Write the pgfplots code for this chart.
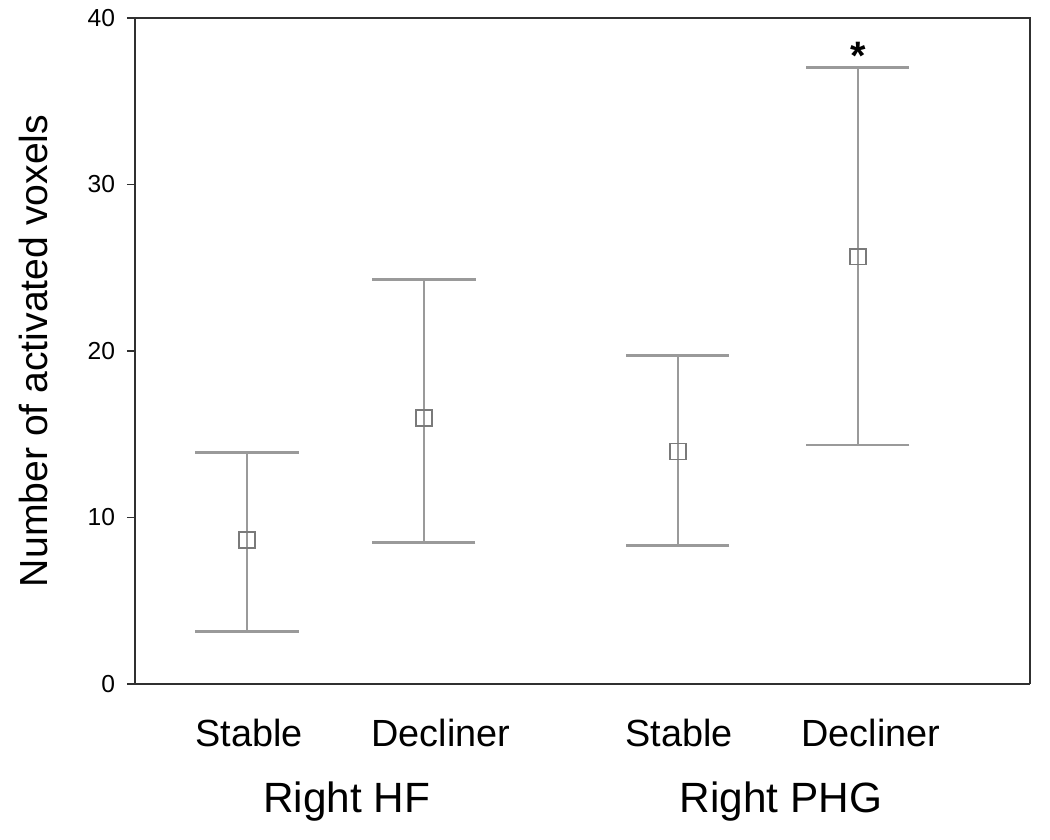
\documentclass[border=0pt]{standalone}
\usepackage{pgfplots}
\pgfplotsset{compat=1.18}
\usepackage{fontspec}
\setmainfont{Liberation Sans}
\usetikzlibrary{calc}

\definecolor{barcol}{HTML}{9A9A9A}
\definecolor{markcol}{HTML}{7A7A7A}
\definecolor{framecol}{HTML}{303030}

\begin{document}
\begin{tikzpicture}
% 1px in the reference = 0.378pt
\begin{axis}[
scale only axis,
width=338.3pt, height=251.7pt,
xmin=135, xmax=1030,
ymin=0, ymax=40,
ytick={0,10,20,30,40},
xtick=\empty,
tick align=outside,
major tick length=3pt,
axis y line*=left,
axis line style={framecol, line width=0.8pt},
every tick/.style={framecol, line width=0.6pt},
y tick label style={font=\fontsize{9.3}{11}\selectfont, xshift=-1pt},
/pgf/number format/assume math mode=true,
ylabel={Number of activated voxels},
ylabel style={font=\fontsize{14.8}{17}\selectfont, at={(axis description cs:-0.113,0.5)}, anchor=center},
clip=false,
]
\addplot[only marks, mark=square, mark size=3pt,
  mark options={draw=markcol, fill=white, line width=0.6pt},
  error bars/.cd, y dir=both, y explicit,
  error bar style={draw=barcol, line width=0.8pt},
  error mark options={rotate=90, draw=barcol, line width=1.1pt, mark size=19.5pt}]
coordinates {
(247,8.65)  += (0,5.27)  -= (0,5.51)
(424,15.96) += (0,8.34)  -= (0,7.45)
(678,13.95) += (0,5.77)  -= (0,5.64)
(858,25.66) += (0,11.38) -= (0,11.31)
};
% redraw marks on top of the error bars
\addplot[only marks, mark=square, mark size=3pt,
  mark options={draw=markcol, fill=white, line width=0.6pt}]
coordinates {(247,8.65) (424,15.96) (678,13.95) (858,25.66)};

\node[font=\fontsize{15}{17}\selectfont\bfseries] at (axis cs:858,37.7) {*};

\node[font=\fontsize{14.3}{17}\selectfont, yshift=-18.5pt] at (axis cs:249,0) {Stable};
\node[font=\fontsize{14.3}{17}\selectfont, yshift=-18.5pt] at (axis cs:441,0) {Decliner};
\node[font=\fontsize{14.3}{17}\selectfont, yshift=-18.5pt] at (axis cs:679,0) {Stable};
\node[font=\fontsize{14.3}{17}\selectfont, yshift=-18.5pt] at (axis cs:871,0) {Decliner};
\node[font=\fontsize{16}{19}\selectfont, yshift=-44.6pt] at (axis cs:347,0) {Right HF};
\node[font=\fontsize{16}{19}\selectfont, yshift=-44.6pt] at (axis cs:781,0) {Right PHG};
\end{axis}
% frame on the top and right
\draw[framecol, line width=0.8pt] (current axis.south east) -- (current axis.north east) -- (current axis.north west);
\path ($(current axis.south west)+(-51.0pt,-59.0pt)$) rectangle ($(current axis.north east)+(7.6pt,6.8pt)$);
\end{tikzpicture}
\end{document}
